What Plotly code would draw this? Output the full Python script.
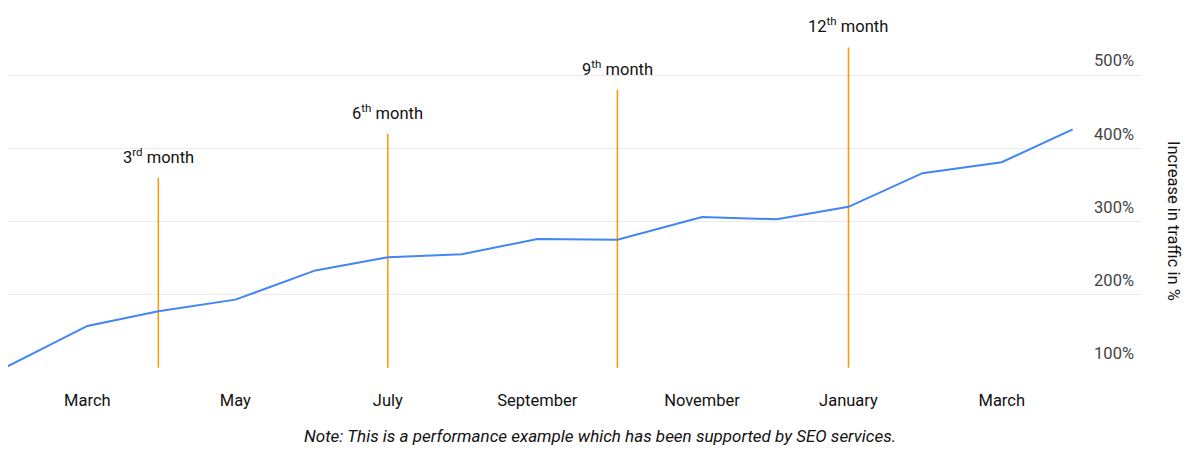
import plotly.graph_objects as go

# datos
months = ["February", "March", "April", "May", "June", "July", "August", "September",
          "October", "November", "December", "January", "February", "March", "April"]
month_pos = [0, 1.08, 2.01, 3.02, 4.07, 5.02, 5.99, 6.98, 8.03, 9.14, 10.12, 11.06, 12.03, 13.07, 14.0]
traffic = [100, 157, 177, 193, 233, 251, 255, 276, 275, 306, 303, 320, 366, 381, 426]

milestone_idx = [2, 5, 8, 11]
milestone_top = [360, 420, 480, 538]
milestone_labels = ["3<sup>rd</sup> month", "6<sup>th</sup> month", "9<sup>th</sup> month", "12<sup>th</sup> month"]

y_ticks = [100, 200, 300, 400, 500]
y_ticktext = ["100%", "200%", "300%", "400%", "500%"]

label_idx = [1, 3, 5, 7, 9, 11, 13]

text_color = "#111111"
font = "Roboto, Arial, sans-serif"

fig = go.Figure()

# lineas verticales de los hitos
for i, top, label in zip(milestone_idx, milestone_top, milestone_labels):
    fig.add_trace(go.Scatter(x=[month_pos[i], month_pos[i]], y=[100, top], mode="lines",
                             line=dict(color="#ff9800", width=1.5), hoverinfo="skip", showlegend=False))
    fig.add_annotation(x=month_pos[i], y=top, text=label, showarrow=False, yanchor="bottom", yshift=9,
                       font=dict(family=font, size=16.5, color=text_color))

fig.add_trace(go.Scatter(x=month_pos, y=traffic, mode="lines", line=dict(color="#4285f4", width=2),
                         text=months, showlegend=False))

# hueco blanco entre el area del grafico y las etiquetas
fig.add_shape(type="rect", xref="paper", yref="paper", x0=0.9479, x1=0.9523, y0=-0.01, y1=1,
              fillcolor="white", line=dict(width=0), layer="between")

fig.add_annotation(xref="paper", yref="y", x=1.0388, y=300, text="Increase in traffic in %", textangle=90,
                   showarrow=False, font=dict(family=font, size=16.5, color=text_color))
fig.add_annotation(xref="paper", yref="paper", x=0.5225, y=-0.2212,
                   text="<i>Note: This is a performance example which has been supported by SEO services.</i>",
                   showarrow=False, font=dict(family=font, size=17, color=text_color))

fig.update_layout(
    width=1200, height=456,
    margin=dict(l=0, r=67, t=0, b=95.7, autoexpand=False),
    plot_bgcolor="white", paper_bgcolor="white",
    font=dict(family=font, size=16.5, color=text_color),
    xaxis=dict(range=[0.039, 14.896], tickvals=[month_pos[i] for i in label_idx],
               ticktext=[months[i] for i in label_idx], showgrid=False, zeroline=False,
               showline=False, ticks="", ticklabelstandoff=20, automargin=False),
    yaxis=dict(range=[99.5, 592], side="right", tickvals=y_ticks, ticktext=y_ticktext,
               gridcolor="#ebebeb", gridwidth=1, zeroline=False, showline=False, ticks="",
               ticklabelposition="inside top", ticklabelstandoff=4, ticklabelshift=-3,
               automargin=False),
)

fig.write_html("out.html")
